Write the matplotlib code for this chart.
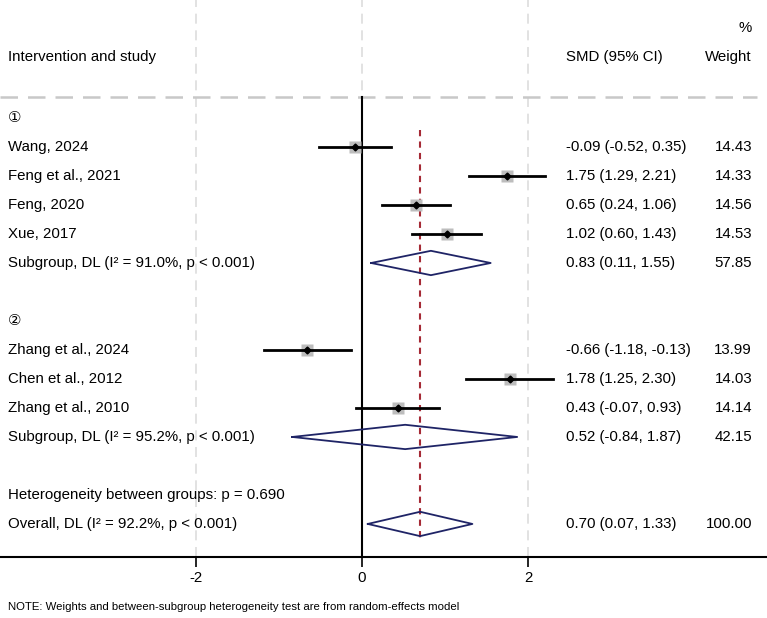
import numpy as np
import matplotlib.pyplot as plt
from matplotlib.transforms import blended_transform_factory

plt.rcParams['font.family'] = ['Liberation Sans', 'DejaVu Sans']

# study-level data
groups = ['①', '②']
studies = ['Wang, 2024', 'Feng et al., 2021', 'Feng, 2020', 'Xue, 2017',
           'Zhang et al., 2024', 'Chen et al., 2012', 'Zhang et al., 2010']
study_group = [0, 0, 0, 0, 1, 1, 1]
smd = [-0.09, 1.75, 0.65, 1.02, -0.66, 1.78, 0.43]
lo = [-0.52, 1.29, 0.24, 0.60, -1.18, 1.25, -0.07]
hi = [0.35, 2.21, 1.06, 1.43, -0.13, 2.30, 0.93]
weight = [14.43, 14.33, 14.56, 14.53, 13.99, 14.03, 14.14]

# subgroup summaries
sub_smd = [0.83, 0.52]
sub_lo = [0.11, -0.84]
sub_hi = [1.55, 1.87]
sub_w = [57.85, 42.15]
sub_i2 = ['91.0%', '95.2%']

# overall
ov_smd, ov_lo, ov_hi, ov_w = 0.70, 0.07, 1.33, 100.00
ov_i2 = '92.2%'
het_p = '0.690'

xticks = [-2, 0, 2]

fig = plt.figure(figsize=(7.67, 6.18), dpi=100)
ax = fig.add_axes([0, 1 - 557 / 618, 1, 557 / 618])

# pixel -> data mapping: x=0 at 362px, 83 px per unit
ax.set_xlim(-362 / 83, (767 - 362) / 83)
ax.set_ylim(15.14, -4.07)
for s in ['top', 'right', 'left']:
    ax.spines[s].set_visible(False)
ax.spines['bottom'].set_linewidth(1.5)
ax.set_yticks([])
ax.set_xticks(xticks)
ax.set_xticklabels([str(t) for t in xticks], fontsize=10.8)
ax.tick_params(axis='x', length=7, width=1.2, pad=3)

tr = blended_transform_factory(ax.transAxes, ax.transData)
lx, sx, wx = 8 / 767, 566 / 767, 752 / 767
fs = 10.8

# grid lines
for t in xticks:
    ax.axvline(t, color='#dddddd', lw=1.2, ls=(0, (6, 4)), zorder=0)
ax.plot([-362 / 83, 395 / 83], [-0.72, -0.72], color='#c8c8c8', lw=1.8,
        ls=(0, (7, 4)), zorder=1)
ax.plot([0, 0], [-0.72, 15.14], color='black', lw=1.5, zorder=2)
ax.plot([ov_smd, ov_smd], [0.4, 14.6], color='#a52a35', lw=1.5,
        ls=(0, (3, 2.5)), zorder=3)

# headers
ax.text(lx, -2.1, 'Intervention and study', transform=tr, fontsize=fs, va='center')
ax.text(sx, -2.1, 'SMD (95% CI)', transform=tr, fontsize=fs, va='center')
ax.text(wx, -2.1, 'Weight', transform=tr, fontsize=fs, va='center', ha='right')
ax.text(wx, -3.1, '%', transform=tr, fontsize=fs, va='center', ha='right')


def diamond(c, l, h, y):
    ax.plot([l, c, h, c, l], [y, y - 0.42, y, y + 0.42, y],
            color='#1f2466', lw=1.3, zorder=4)


row = 0
for g, gname in enumerate(groups):
    ax.text(lx, row, gname, transform=tr, fontsize=fs, va='center')
    row += 1
    for i in range(len(studies)):
        if study_group[i] != g:
            continue
        ax.plot([lo[i], hi[i]], [row, row], color='black', lw=2, zorder=5)
        ax.plot(smd[i], row, 's', color='#bdbdbd', ms=8.2 * np.sqrt(weight[i] / 14.4),
                mec='none', zorder=4)
        ax.plot(smd[i], row, 'D', color='black', ms=3.5, zorder=6)
        ax.text(lx, row, studies[i], transform=tr, fontsize=fs, va='center')
        ax.text(sx, row, f'{smd[i]:.2f} ({lo[i]:.2f}, {hi[i]:.2f})',
                transform=tr, fontsize=fs, va='center')
        ax.text(wx, row, f'{weight[i]:.2f}', transform=tr, fontsize=fs,
                va='center', ha='right')
        row += 1
    diamond(sub_smd[g], sub_lo[g], sub_hi[g], row)
    ax.text(lx, row, f'Subgroup, DL (I² = {sub_i2[g]}, p < 0.001)', transform=tr,
            fontsize=fs, va='center')
    ax.text(sx, row, f'{sub_smd[g]:.2f} ({sub_lo[g]:.2f}, {sub_hi[g]:.2f})',
            transform=tr, fontsize=fs, va='center')
    ax.text(wx, row, f'{sub_w[g]:.2f}', transform=tr, fontsize=fs,
            va='center', ha='right')
    row += 2

ax.text(lx, row, f'Heterogeneity between groups: p = {het_p}', transform=tr,
        fontsize=fs, va='center')
row += 1
diamond(ov_smd, ov_lo, ov_hi, row)
ax.text(lx, row, f'Overall, DL (I² = {ov_i2}, p < 0.001)', transform=tr,
        fontsize=fs, va='center')
ax.text(sx, row, f'{ov_smd:.2f} ({ov_lo:.2f}, {ov_hi:.2f})', transform=tr,
        fontsize=fs, va='center')
ax.text(wx, row, f'{ov_w:.2f}', transform=tr, fontsize=fs, va='center', ha='right')

fig.text(8 / 767, 1 - 607 / 618,
         'NOTE: Weights and between-subgroup heterogeneity test are from random-effects model',
         fontsize=8.2, va='center')

fig.savefig('out.png', dpi=100)
